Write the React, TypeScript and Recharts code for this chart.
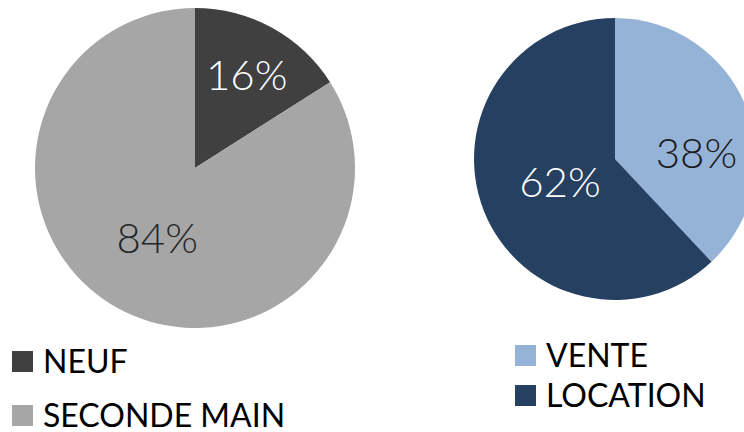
import { PieChart, Pie, Cell } from 'recharts';

const ETAT_NAMES = ['NEUF', 'SECONDE MAIN'];
const ETAT_VALUES = [16, 84];
const ETAT_COLORS = ['#404040', '#a6a6a6'];
const ETAT_LABEL_COLORS = ['#ffffff', '#262626'];

const MODE_NAMES = ['VENTE', 'LOCATION'];
const MODE_VALUES = [38, 62];
const MODE_COLORS = ['#95b3d7', '#254061'];
const MODE_LABEL_COLORS = ['#1a1a1a', '#ffffff'];

const etatData = ETAT_NAMES.map((name, i) => ({ name, value: ETAT_VALUES[i] }));
const modeData = MODE_NAMES.map((name, i) => ({ name, value: MODE_VALUES[i] }));

const RAD = Math.PI / 180;
const labelFont = "'Lato', 'Open Sans', sans-serif";
const legendFont = "'Lato', 'Open Sans', sans-serif";

// label placement (radius factor, optional angle override) like Excel best fit
const makeLabel = (colors: string[], radii: number[], angles: (number | null)[]) => (p: any) => {
  const ang = angles[p.index] ?? p.midAngle;
  const r = p.outerRadius * radii[p.index];
  const x = p.cx + r * Math.cos(-ang * RAD);
  const y = p.cy + r * Math.sin(-ang * RAD);
  return (
    <text x={x} y={y} fill={colors[p.index]} textAnchor="middle" dominantBaseline="central"
      fontFamily={labelFont} fontWeight={300} fontSize={42}>
      {`${p.value}%`}
    </text>
  );
};

function Legend({ names, colors, left, top, gap }: { names: string[]; colors: string[]; left: number; top: number; gap: number }) {
  return (
    <div style={{ position: 'absolute', left, top }}>
      {names.map((n, i) => (
        <div key={n} style={{ display: 'flex', alignItems: 'center', height: gap, lineHeight: 1, fontFamily: legendFont, fontSize: 32, color: '#000', whiteSpace: 'nowrap' }}>
          <span style={{ width: 21, height: 21, background: colors[i], marginRight: 10, display: 'inline-block', flexShrink: 0 }} />
          {n}
        </div>
      ))}
    </div>
  );
}

export default function App() {
  return (
    <div style={{ position: 'fixed', left: 0, top: 0, width: 744, height: 432, background: '#fff', overflow: 'hidden' }}>
      <PieChart width={744} height={432} margin={{ top: 0, right: 0, bottom: 0, left: 0 }}>
        <Pie data={etatData} dataKey="value" cx={195} cy={168} outerRadius={160} startAngle={90} endAngle={-270}
          stroke="none" isAnimationActive={false} labelLine={false}
          label={makeLabel(ETAT_LABEL_COLORS, [0.67, 0.49], [null, null])}>
          {etatData.map((_, i) => <Cell key={i} fill={ETAT_COLORS[i]} />)}
        </Pie>
        <Pie data={modeData} dataKey="value" cx={615} cy={159} outerRadius={141} startAngle={90} endAngle={-270}
          stroke="none" isAnimationActive={false} labelLine={false}
          label={makeLabel(MODE_LABEL_COLORS, [0.58, 0.42], [5, null])}>
          {modeData.map((_, i) => <Cell key={i} fill={MODE_COLORS[i]} />)}
        </Pie>
      </PieChart>
      <Legend names={ETAT_NAMES} colors={ETAT_COLORS} left={12} top={334} gap={54} />
      <Legend names={MODE_NAMES} colors={MODE_COLORS} left={515} top={335} gap={40} />
    </div>
  );
}
